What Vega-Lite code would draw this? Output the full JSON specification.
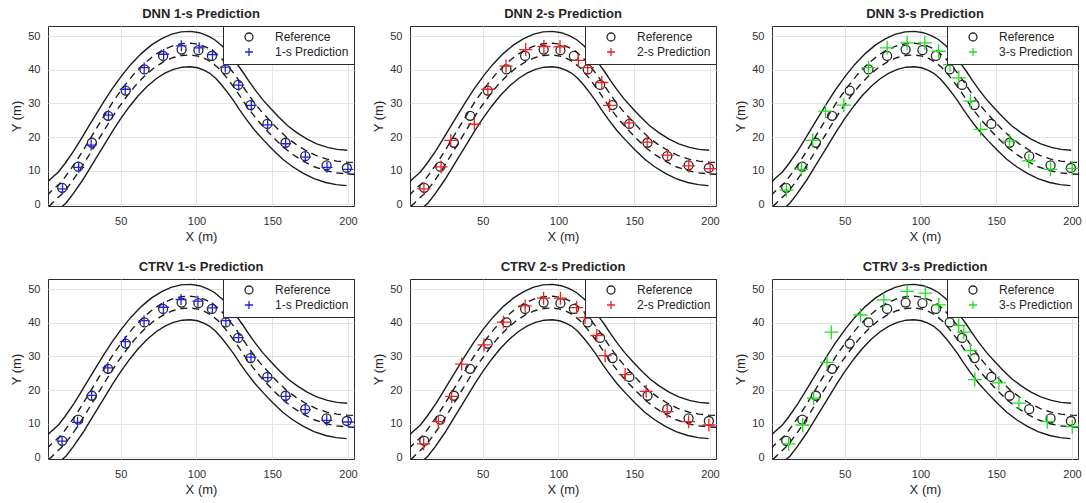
{
 "$schema": "https://vega.github.io/schema/vega-lite/v6.json",
 "background": "white",
 "padding": {"left": 10, "top": 7, "right": 0, "bottom": 0},
 "datasets": {
  "road": [
   {"line":"U2","kind":"solid","x":-0.03,"y":5.84},{"line":"U2","kind":"solid","x":3.85,"y":7.59},{"line":"U2","kind":"solid","x":8.87,"y":9.6},{"line":"U2","kind":"solid","x":13.2,"y":12.14},{"line":"U2","kind":"solid","x":18.99,"y":15.9},{"line":"U2","kind":"solid","x":22.88,"y":18.72},{"line":"U2","kind":"solid","x":27.85,"y":22.4},{"line":"U2","kind":"solid","x":32.88,"y":26.12},{"line":"U2","kind":"solid","x":38.66,"y":30.38},{"line":"U2","kind":"solid","x":44.11,"y":34.18},{"line":"U2","kind":"solid","x":50.66,"y":38.24},{"line":"U2","kind":"solid","x":56.65,"y":41.59},{"line":"U2","kind":"solid","x":63.71,"y":44.86},{"line":"U2","kind":"solid","x":70.4,"y":47.4},{"line":"U2","kind":"solid","x":76.78,"y":49.2},{"line":"U2","kind":"solid","x":83.22,"y":50.49},{"line":"U2","kind":"solid","x":89.83,"y":51.24},{"line":"U2","kind":"solid","x":96.11,"y":51.4},{"line":"U2","kind":"solid","x":101.93,"y":51.01},{"line":"U2","kind":"solid","x":107.13,"y":50.13},{"line":"U2","kind":"solid","x":111.84,"y":48.99},{"line":"U2","kind":"solid","x":117.15,"y":46.99},{"line":"U2","kind":"solid","x":121.83,"y":44.6},{"line":"U2","kind":"solid","x":126.27,"y":42.06},{"line":"U2","kind":"solid","x":130.39,"y":39.48},{"line":"U2","kind":"solid","x":134.39,"y":36.78},{"line":"U2","kind":"solid","x":138.47,"y":34.16},{"line":"U2","kind":"solid","x":143.57,"y":31.18},{"line":"U2","kind":"solid","x":149.15,"y":28.39},{"line":"U2","kind":"solid","x":154.62,"y":25.8},{"line":"U2","kind":"solid","x":160.62,"y":23.22},{"line":"U2","kind":"solid","x":166.51,"y":21.23},{"line":"U2","kind":"solid","x":173.02,"y":19.4},{"line":"U2","kind":"solid","x":179.43,"y":17.97},{"line":"U2","kind":"solid","x":186.47,"y":16.92},{"line":"U2","kind":"solid","x":192.82,"y":16.34},{"line":"U2","kind":"solid","x":199.51,"y":16.05},
   {"line":"L2","kind":"solid","x":4.03,"y":-3.84},{"line":"L2","kind":"solid","x":8.15,"y":-1.99},{"line":"L2","kind":"solid","x":13.93,"y":0.4},{"line":"L2","kind":"solid","x":18.8,"y":3.26},{"line":"L2","kind":"solid","x":25.01,"y":7.3},{"line":"L2","kind":"solid","x":29.12,"y":10.28},{"line":"L2","kind":"solid","x":34.15,"y":14.0},{"line":"L2","kind":"solid","x":39.12,"y":17.68},{"line":"L2","kind":"solid","x":44.74,"y":21.82},{"line":"L2","kind":"solid","x":49.89,"y":25.42},{"line":"L2","kind":"solid","x":55.94,"y":29.16},{"line":"L2","kind":"solid","x":61.35,"y":32.21},{"line":"L2","kind":"solid","x":67.69,"y":35.14},{"line":"L2","kind":"solid","x":73.6,"y":37.4},{"line":"L2","kind":"solid","x":79.22,"y":39.0},{"line":"L2","kind":"solid","x":84.78,"y":40.11},{"line":"L2","kind":"solid","x":90.57,"y":40.76},{"line":"L2","kind":"solid","x":95.9,"y":40.9},{"line":"L2","kind":"solid","x":100.68,"y":40.59},{"line":"L2","kind":"solid","x":104.87,"y":39.87},{"line":"L2","kind":"solid","x":108.56,"y":39.01},{"line":"L2","kind":"solid","x":112.85,"y":37.41},{"line":"L2","kind":"solid","x":116.77,"y":35.4},{"line":"L2","kind":"solid","x":120.73,"y":33.14},{"line":"L2","kind":"solid","x":124.61,"y":30.72},{"line":"L2","kind":"solid","x":128.61,"y":28.02},{"line":"L2","kind":"solid","x":132.93,"y":25.24},{"line":"L2","kind":"solid","x":138.43,"y":22.02},{"line":"L2","kind":"solid","x":144.45,"y":19.01},{"line":"L2","kind":"solid","x":150.38,"y":16.2},{"line":"L2","kind":"solid","x":156.98,"y":13.38},{"line":"L2","kind":"solid","x":163.49,"y":11.17},{"line":"L2","kind":"solid","x":170.58,"y":9.2},{"line":"L2","kind":"solid","x":177.57,"y":7.63},{"line":"L2","kind":"solid","x":185.33,"y":6.48},{"line":"L2","kind":"solid","x":192.19,"y":5.86},{"line":"L2","kind":"solid","x":199.09,"y":5.56},
   {"line":"U1","kind":"dash","x":1.32,"y":2.61},{"line":"U1","kind":"dash","x":5.28,"y":4.4},{"line":"U1","kind":"dash","x":10.56,"y":6.53},{"line":"U1","kind":"dash","x":15.07,"y":9.18},{"line":"U1","kind":"dash","x":21.0,"y":13.03},{"line":"U1","kind":"dash","x":24.96,"y":15.91},{"line":"U1","kind":"dash","x":29.95,"y":19.6},{"line":"U1","kind":"dash","x":34.96,"y":23.31},{"line":"U1","kind":"dash","x":40.69,"y":27.53},{"line":"U1","kind":"dash","x":46.04,"y":31.26},{"line":"U1","kind":"dash","x":52.42,"y":35.21},{"line":"U1","kind":"dash","x":58.22,"y":38.47},{"line":"U1","kind":"dash","x":65.04,"y":41.62},{"line":"U1","kind":"dash","x":71.47,"y":44.07},{"line":"U1","kind":"dash","x":77.59,"y":45.8},{"line":"U1","kind":"dash","x":83.74,"y":47.03},{"line":"U1","kind":"dash","x":90.08,"y":47.75},{"line":"U1","kind":"dash","x":96.04,"y":47.9},{"line":"U1","kind":"dash","x":101.51,"y":47.54},{"line":"U1","kind":"dash","x":106.38,"y":46.71},{"line":"U1","kind":"dash","x":110.75,"y":45.66},{"line":"U1","kind":"dash","x":115.72,"y":43.8},{"line":"U1","kind":"dash","x":120.14,"y":41.53},{"line":"U1","kind":"dash","x":124.42,"y":39.09},{"line":"U1","kind":"dash","x":128.46,"y":36.56},{"line":"U1","kind":"dash","x":132.46,"y":33.86},{"line":"U1","kind":"dash","x":136.62,"y":31.19},{"line":"U1","kind":"dash","x":141.86,"y":28.13},{"line":"U1","kind":"dash","x":147.58,"y":25.27},{"line":"U1","kind":"dash","x":153.21,"y":22.6},{"line":"U1","kind":"dash","x":159.41,"y":19.94},{"line":"U1","kind":"dash","x":165.5,"y":17.88},{"line":"U1","kind":"dash","x":172.21,"y":16.0},{"line":"U1","kind":"dash","x":178.81,"y":14.52},{"line":"U1","kind":"dash","x":186.09,"y":13.44},{"line":"U1","kind":"dash","x":192.61,"y":12.85},{"line":"U1","kind":"dash","x":199.37,"y":12.55},{"line":"U1","kind":"dash","x":204.05,"y":12.45},{"line":"U1","kind":"dash","x":208.04,"y":12.35},
   {"line":"L1","kind":"dash","x":2.68,"y":-0.61},{"line":"L1","kind":"dash","x":6.72,"y":1.2},{"line":"L1","kind":"dash","x":12.24,"y":3.47},{"line":"L1","kind":"dash","x":16.93,"y":6.22},{"line":"L1","kind":"dash","x":23.0,"y":10.17},{"line":"L1","kind":"dash","x":27.04,"y":13.09},{"line":"L1","kind":"dash","x":32.05,"y":16.8},{"line":"L1","kind":"dash","x":37.04,"y":20.49},{"line":"L1","kind":"dash","x":42.71,"y":24.67},{"line":"L1","kind":"dash","x":47.96,"y":28.34},{"line":"L1","kind":"dash","x":54.18,"y":32.19},{"line":"L1","kind":"dash","x":59.78,"y":35.34},{"line":"L1","kind":"dash","x":66.36,"y":38.38},{"line":"L1","kind":"dash","x":72.53,"y":40.73},{"line":"L1","kind":"dash","x":78.41,"y":42.4},{"line":"L1","kind":"dash","x":84.26,"y":43.57},{"line":"L1","kind":"dash","x":90.32,"y":44.25},{"line":"L1","kind":"dash","x":95.97,"y":44.4},{"line":"L1","kind":"dash","x":101.09,"y":44.06},{"line":"L1","kind":"dash","x":105.62,"y":43.29},{"line":"L1","kind":"dash","x":109.65,"y":42.34},{"line":"L1","kind":"dash","x":114.28,"y":40.6},{"line":"L1","kind":"dash","x":118.46,"y":38.47},{"line":"L1","kind":"dash","x":122.58,"y":36.11},{"line":"L1","kind":"dash","x":126.54,"y":33.64},{"line":"L1","kind":"dash","x":130.54,"y":30.94},{"line":"L1","kind":"dash","x":134.78,"y":28.21},{"line":"L1","kind":"dash","x":140.14,"y":25.07},{"line":"L1","kind":"dash","x":146.02,"y":22.14},{"line":"L1","kind":"dash","x":151.8,"y":19.4},{"line":"L1","kind":"dash","x":158.19,"y":16.66},{"line":"L1","kind":"dash","x":164.5,"y":14.52},{"line":"L1","kind":"dash","x":171.39,"y":12.6},{"line":"L1","kind":"dash","x":178.19,"y":11.08},{"line":"L1","kind":"dash","x":185.71,"y":9.96},{"line":"L1","kind":"dash","x":192.4,"y":9.35},{"line":"L1","kind":"dash","x":199.23,"y":9.05},{"line":"L1","kind":"dash","x":203.95,"y":8.95},{"line":"L1","kind":"dash","x":207.97,"y":8.85}
  ],
  "ref": [
   {"series":"Reference","x":11.4,"y":4.9},{"series":"Reference","x":22.0,"y":11.2},{"series":"Reference","x":31.0,"y":18.3},{"series":"Reference","x":41.7,"y":26.3},{"series":"Reference","x":53.3,"y":33.8},{"series":"Reference","x":65.7,"y":40.1},{"series":"Reference","x":78.0,"y":44.1},{"series":"Reference","x":90.2,"y":46.0},{"series":"Reference","x":101.3,"y":45.8},{"series":"Reference","x":110.2,"y":44.1},{"series":"Reference","x":119.3,"y":40.1},{"series":"Reference","x":127.5,"y":35.5},{"series":"Reference","x":135.7,"y":29.5},{"series":"Reference","x":146.8,"y":23.9},{"series":"Reference","x":158.8,"y":18.3},{"series":"Reference","x":171.8,"y":14.3},{"series":"Reference","x":185.9,"y":11.6},{"series":"Reference","x":199.3,"y":10.8}
  ],
  "pred": [
   {"panel":"DNN1","series":"1-s Prediction","x":11.6,"y":4.6},{"panel":"DNN1","series":"1-s Prediction","x":22.3,"y":11.0},{"panel":"DNN1","series":"1-s Prediction","x":30.5,"y":17.6},{"panel":"DNN1","series":"1-s Prediction","x":41.9,"y":26.5},{"panel":"DNN1","series":"1-s Prediction","x":53.0,"y":34.2},{"panel":"DNN1","series":"1-s Prediction","x":65.5,"y":40.6},{"panel":"DNN1","series":"1-s Prediction","x":78.3,"y":44.6},{"panel":"DNN1","series":"1-s Prediction","x":90.0,"y":47.1},{"panel":"DNN1","series":"1-s Prediction","x":101.8,"y":46.5},{"panel":"DNN1","series":"1-s Prediction","x":110.6,"y":44.5},{"panel":"DNN1","series":"1-s Prediction","x":119.0,"y":40.8},{"panel":"DNN1","series":"1-s Prediction","x":127.9,"y":35.4},{"panel":"DNN1","series":"1-s Prediction","x":136.2,"y":29.4},{"panel":"DNN1","series":"1-s Prediction","x":147.0,"y":23.6},{"panel":"DNN1","series":"1-s Prediction","x":158.9,"y":18.0},{"panel":"DNN1","series":"1-s Prediction","x":171.9,"y":14.0},{"panel":"DNN1","series":"1-s Prediction","x":186.2,"y":11.0},{"panel":"DNN1","series":"1-s Prediction","x":200.0,"y":10.4},
   {"panel":"DNN2","series":"2-s Prediction","x":11.2,"y":4.6},{"panel":"DNN2","series":"2-s Prediction","x":22.5,"y":11.1},{"panel":"DNN2","series":"2-s Prediction","x":28.9,"y":19.0},{"panel":"DNN2","series":"2-s Prediction","x":44.5,"y":23.8},{"panel":"DNN2","series":"2-s Prediction","x":53.4,"y":34.2},{"panel":"DNN2","series":"2-s Prediction","x":65.4,"y":41.1},{"panel":"DNN2","series":"2-s Prediction","x":78.4,"y":46.0},{"panel":"DNN2","series":"2-s Prediction","x":90.4,"y":46.9},{"panel":"DNN2","series":"2-s Prediction","x":101.0,"y":46.8},{"panel":"DNN2","series":"2-s Prediction","x":113.2,"y":42.8},{"panel":"DNN2","series":"2-s Prediction","x":119.3,"y":40.6},{"panel":"DNN2","series":"2-s Prediction","x":128.6,"y":36.2},{"panel":"DNN2","series":"2-s Prediction","x":133.7,"y":29.4},{"panel":"DNN2","series":"2-s Prediction","x":146.6,"y":24.2},{"panel":"DNN2","series":"2-s Prediction","x":158.6,"y":18.5},{"panel":"DNN2","series":"2-s Prediction","x":172.0,"y":14.6},{"panel":"DNN2","series":"2-s Prediction","x":186.0,"y":11.4},{"panel":"DNN2","series":"2-s Prediction","x":200.1,"y":10.6},
   {"panel":"DNN3","series":"3-s Prediction","x":11.5,"y":4.2},{"panel":"DNN3","series":"3-s Prediction","x":21.4,"y":10.4},{"panel":"DNN3","series":"3-s Prediction","x":28.9,"y":19.0},{"panel":"DNN3","series":"3-s Prediction","x":37.3,"y":27.7},{"panel":"DNN3","series":"3-s Prediction","x":49.4,"y":29.5},{"panel":"DNN3","series":"3-s Prediction","x":65.7,"y":40.6},{"panel":"DNN3","series":"3-s Prediction","x":78.0,"y":46.5},{"panel":"DNN3","series":"3-s Prediction","x":91.2,"y":48.0},{"panel":"DNN3","series":"3-s Prediction","x":102.9,"y":48.0},{"panel":"DNN3","series":"3-s Prediction","x":112.0,"y":45.5},{"panel":"DNN3","series":"3-s Prediction","x":119.5,"y":41.5},{"panel":"DNN3","series":"3-s Prediction","x":125.3,"y":37.6},{"panel":"DNN3","series":"3-s Prediction","x":133.0,"y":30.7},{"panel":"DNN3","series":"3-s Prediction","x":139.7,"y":22.3},{"panel":"DNN3","series":"3-s Prediction","x":158.8,"y":18.8},{"panel":"DNN3","series":"3-s Prediction","x":171.5,"y":12.9},{"panel":"DNN3","series":"3-s Prediction","x":185.9,"y":10.4},{"panel":"DNN3","series":"3-s Prediction","x":200.2,"y":10.7},
   {"panel":"CTRV1","series":"1-s Prediction","x":11.3,"y":4.8},{"panel":"CTRV1","series":"1-s Prediction","x":21.5,"y":10.4},{"panel":"CTRV1","series":"1-s Prediction","x":30.8,"y":18.4},{"panel":"CTRV1","series":"1-s Prediction","x":41.5,"y":26.6},{"panel":"CTRV1","series":"1-s Prediction","x":53.0,"y":34.4},{"panel":"CTRV1","series":"1-s Prediction","x":65.4,"y":40.6},{"panel":"CTRV1","series":"1-s Prediction","x":78.2,"y":44.6},{"panel":"CTRV1","series":"1-s Prediction","x":89.8,"y":46.9},{"panel":"CTRV1","series":"1-s Prediction","x":101.0,"y":46.4},{"panel":"CTRV1","series":"1-s Prediction","x":110.5,"y":44.4},{"panel":"CTRV1","series":"1-s Prediction","x":119.4,"y":40.6},{"panel":"CTRV1","series":"1-s Prediction","x":127.8,"y":35.6},{"panel":"CTRV1","series":"1-s Prediction","x":136.0,"y":29.8},{"panel":"CTRV1","series":"1-s Prediction","x":147.1,"y":23.7},{"panel":"CTRV1","series":"1-s Prediction","x":159.1,"y":18.1},{"panel":"CTRV1","series":"1-s Prediction","x":171.8,"y":14.2},{"panel":"CTRV1","series":"1-s Prediction","x":186.0,"y":11.0},{"panel":"CTRV1","series":"1-s Prediction","x":200.2,"y":10.5},
   {"panel":"CTRV2","series":"2-s Prediction","x":11.0,"y":4.0},{"panel":"CTRV2","series":"2-s Prediction","x":20.7,"y":10.6},{"panel":"CTRV2","series":"2-s Prediction","x":29.5,"y":18.1},{"panel":"CTRV2","series":"2-s Prediction","x":36.1,"y":27.7},{"panel":"CTRV2","series":"2-s Prediction","x":50.9,"y":33.4},{"panel":"CTRV2","series":"2-s Prediction","x":63.7,"y":40.2},{"panel":"CTRV2","series":"2-s Prediction","x":78.0,"y":45.0},{"panel":"CTRV2","series":"2-s Prediction","x":90.2,"y":47.3},{"panel":"CTRV2","series":"2-s Prediction","x":101.3,"y":47.3},{"panel":"CTRV2","series":"2-s Prediction","x":112.0,"y":44.5},{"panel":"CTRV2","series":"2-s Prediction","x":117.5,"y":41.5},{"panel":"CTRV2","series":"2-s Prediction","x":125.3,"y":36.2},{"panel":"CTRV2","series":"2-s Prediction","x":130.8,"y":30.2},{"panel":"CTRV2","series":"2-s Prediction","x":144.0,"y":24.6},{"panel":"CTRV2","series":"2-s Prediction","x":157.9,"y":19.6},{"panel":"CTRV2","series":"2-s Prediction","x":171.8,"y":13.6},{"panel":"CTRV2","series":"2-s Prediction","x":185.9,"y":10.6},{"panel":"CTRV2","series":"2-s Prediction","x":199.3,"y":9.6},
   {"panel":"CTRV3","series":"3-s Prediction","x":13.0,"y":4.0},{"panel":"CTRV3","series":"3-s Prediction","x":22.3,"y":9.6},{"panel":"CTRV3","series":"3-s Prediction","x":29.5,"y":17.6},{"panel":"CTRV3","series":"3-s Prediction","x":38.3,"y":28.2},{"panel":"CTRV3","series":"3-s Prediction","x":41.2,"y":37.2},{"panel":"CTRV3","series":"3-s Prediction","x":60.4,"y":42.3},{"panel":"CTRV3","series":"3-s Prediction","x":75.8,"y":46.8},{"panel":"CTRV3","series":"3-s Prediction","x":91.2,"y":49.3},{"panel":"CTRV3","series":"3-s Prediction","x":103.3,"y":48.8},{"panel":"CTRV3","series":"3-s Prediction","x":112.1,"y":45.3},{"panel":"CTRV3","series":"3-s Prediction","x":125.3,"y":39.2},{"panel":"CTRV3","series":"3-s Prediction","x":128.6,"y":37.2},{"panel":"CTRV3","series":"3-s Prediction","x":133.0,"y":31.7},{"panel":"CTRV3","series":"3-s Prediction","x":135.9,"y":23.1},{"panel":"CTRV3","series":"3-s Prediction","x":151.8,"y":22.1},{"panel":"CTRV3","series":"3-s Prediction","x":165.0,"y":16.1},{"panel":"CTRV3","series":"3-s Prediction","x":183.7,"y":10.6},{"panel":"CTRV3","series":"3-s Prediction","x":200.2,"y":9.1}
  ]
 },
 "columns": 3,
 "spacing": {"row": 73, "column": 56},
 "bounds": "flush",
 "resolve": {"scale": {"color": "independent", "shape": "independent"}, "legend": {"color": "independent", "shape": "independent"}},
 "concat": [
  {"title": "DNN 1-s Prediction", "width": 306, "height": 180,
   "encoding": {"x": {"field": "x", "type": "quantitative", "title": "X (m)", "scale": {"domain": [2, 204], "nice": false, "zero": false}, "axis": {"values": [50, 100, 150, 200]}}, "y": {"field": "y", "type": "quantitative", "title": "Y (m)", "scale": {"domain": [-0.5, 53], "nice": false, "zero": false}, "axis": {"values": [0, 10, 20, 30, 40, 50]}}},
   "layer": [
    {"data": {"name": "road"}, "transform": [{"filter": "datum.kind == 'solid'"}], "mark": {"type": "line", "clip": true, "color": "#1c1c1c", "strokeWidth": 1.4}, "encoding": {"detail": {"field": "line"}}},
    {"data": {"name": "road"}, "transform": [{"filter": "datum.kind == 'dash'"}], "mark": {"type": "line", "clip": true, "color": "#1c1c1c", "strokeWidth": 1.4, "strokeDash": [7, 5]}, "encoding": {"detail": {"field": "line"}}},
    {"data": {"name": "ref"}, "mark": {"type": "point", "filled": false, "size": 81, "strokeWidth": 1.3, "opacity": 1}, "encoding": {"color": {"field": "series", "type": "nominal", "scale": {"domain": ["Reference", "1-s Prediction"], "range": ["#262626", "#2020ee"]}, "legend": {"title": null}}, "shape": {"field": "series", "type": "nominal", "scale": {"domain": ["Reference", "1-s Prediction"], "range": ["circle", "M-1,0L1,0M0,-1L0,1"]}, "legend": {"title": null}}}},
    {"data": {"name": "pred"}, "transform": [{"filter": "datum.panel == 'DNN1'"}], "mark": {"type": "point", "filled": false, "size": 121, "strokeWidth": 1.3, "opacity": 1}, "encoding": {"color": {"field": "series", "type": "nominal", "scale": {"domain": ["Reference", "1-s Prediction"], "range": ["#262626", "#2020ee"]}, "legend": {"title": null}}, "shape": {"field": "series", "type": "nominal", "scale": {"domain": ["Reference", "1-s Prediction"], "range": ["circle", "M-1,0L1,0M0,-1L0,1"]}, "legend": {"title": null}}}}
   ]},
  {"title": "DNN 2-s Prediction", "width": 306, "height": 180,
   "encoding": {"x": {"field": "x", "type": "quantitative", "title": "X (m)", "scale": {"domain": [2, 204], "nice": false, "zero": false}, "axis": {"values": [50, 100, 150, 200]}}, "y": {"field": "y", "type": "quantitative", "title": "Y (m)", "scale": {"domain": [-0.5, 53], "nice": false, "zero": false}, "axis": {"values": [0, 10, 20, 30, 40, 50]}}},
   "layer": [
    {"data": {"name": "road"}, "transform": [{"filter": "datum.kind == 'solid'"}], "mark": {"type": "line", "clip": true, "color": "#1c1c1c", "strokeWidth": 1.4}, "encoding": {"detail": {"field": "line"}}},
    {"data": {"name": "road"}, "transform": [{"filter": "datum.kind == 'dash'"}], "mark": {"type": "line", "clip": true, "color": "#1c1c1c", "strokeWidth": 1.4, "strokeDash": [7, 5]}, "encoding": {"detail": {"field": "line"}}},
    {"data": {"name": "ref"}, "mark": {"type": "point", "filled": false, "size": 81, "strokeWidth": 1.3, "opacity": 1}, "encoding": {"color": {"field": "series", "type": "nominal", "scale": {"domain": ["Reference", "2-s Prediction"], "range": ["#262626", "#ee2020"]}, "legend": {"title": null}}, "shape": {"field": "series", "type": "nominal", "scale": {"domain": ["Reference", "2-s Prediction"], "range": ["circle", "M-1,0L1,0M0,-1L0,1"]}, "legend": {"title": null}}}},
    {"data": {"name": "pred"}, "transform": [{"filter": "datum.panel == 'DNN2'"}], "mark": {"type": "point", "filled": false, "size": 169, "strokeWidth": 1.3, "opacity": 1}, "encoding": {"color": {"field": "series", "type": "nominal", "scale": {"domain": ["Reference", "2-s Prediction"], "range": ["#262626", "#ee2020"]}, "legend": {"title": null}}, "shape": {"field": "series", "type": "nominal", "scale": {"domain": ["Reference", "2-s Prediction"], "range": ["circle", "M-1,0L1,0M0,-1L0,1"]}, "legend": {"title": null}}}}
   ]},
  {"title": "DNN 3-s Prediction", "width": 306, "height": 180,
   "encoding": {"x": {"field": "x", "type": "quantitative", "title": "X (m)", "scale": {"domain": [2, 204], "nice": false, "zero": false}, "axis": {"values": [50, 100, 150, 200]}}, "y": {"field": "y", "type": "quantitative", "title": "Y (m)", "scale": {"domain": [-0.5, 53], "nice": false, "zero": false}, "axis": {"values": [0, 10, 20, 30, 40, 50]}}},
   "layer": [
    {"data": {"name": "road"}, "transform": [{"filter": "datum.kind == 'solid'"}], "mark": {"type": "line", "clip": true, "color": "#1c1c1c", "strokeWidth": 1.4}, "encoding": {"detail": {"field": "line"}}},
    {"data": {"name": "road"}, "transform": [{"filter": "datum.kind == 'dash'"}], "mark": {"type": "line", "clip": true, "color": "#1c1c1c", "strokeWidth": 1.4, "strokeDash": [7, 5]}, "encoding": {"detail": {"field": "line"}}},
    {"data": {"name": "ref"}, "mark": {"type": "point", "filled": false, "size": 81, "strokeWidth": 1.3, "opacity": 1}, "encoding": {"color": {"field": "series", "type": "nominal", "scale": {"domain": ["Reference", "3-s Prediction"], "range": ["#262626", "#22dd22"]}, "legend": {"title": null}}, "shape": {"field": "series", "type": "nominal", "scale": {"domain": ["Reference", "3-s Prediction"], "range": ["circle", "M-1,0L1,0M0,-1L0,1"]}, "legend": {"title": null}}}},
    {"data": {"name": "pred"}, "transform": [{"filter": "datum.panel == 'DNN3'"}], "mark": {"type": "point", "filled": false, "size": 196, "strokeWidth": 1.3, "opacity": 1}, "encoding": {"color": {"field": "series", "type": "nominal", "scale": {"domain": ["Reference", "3-s Prediction"], "range": ["#262626", "#22dd22"]}, "legend": {"title": null}}, "shape": {"field": "series", "type": "nominal", "scale": {"domain": ["Reference", "3-s Prediction"], "range": ["circle", "M-1,0L1,0M0,-1L0,1"]}, "legend": {"title": null}}}}
   ]},
  {"title": "CTRV 1-s Prediction", "width": 306, "height": 180,
   "encoding": {"x": {"field": "x", "type": "quantitative", "title": "X (m)", "scale": {"domain": [2, 204], "nice": false, "zero": false}, "axis": {"values": [50, 100, 150, 200]}}, "y": {"field": "y", "type": "quantitative", "title": "Y (m)", "scale": {"domain": [-0.5, 53], "nice": false, "zero": false}, "axis": {"values": [0, 10, 20, 30, 40, 50]}}},
   "layer": [
    {"data": {"name": "road"}, "transform": [{"filter": "datum.kind == 'solid'"}], "mark": {"type": "line", "clip": true, "color": "#1c1c1c", "strokeWidth": 1.4}, "encoding": {"detail": {"field": "line"}}},
    {"data": {"name": "road"}, "transform": [{"filter": "datum.kind == 'dash'"}], "mark": {"type": "line", "clip": true, "color": "#1c1c1c", "strokeWidth": 1.4, "strokeDash": [7, 5]}, "encoding": {"detail": {"field": "line"}}},
    {"data": {"name": "ref"}, "mark": {"type": "point", "filled": false, "size": 81, "strokeWidth": 1.3, "opacity": 1}, "encoding": {"color": {"field": "series", "type": "nominal", "scale": {"domain": ["Reference", "1-s Prediction"], "range": ["#262626", "#2020ee"]}, "legend": {"title": null}}, "shape": {"field": "series", "type": "nominal", "scale": {"domain": ["Reference", "1-s Prediction"], "range": ["circle", "M-1,0L1,0M0,-1L0,1"]}, "legend": {"title": null}}}},
    {"data": {"name": "pred"}, "transform": [{"filter": "datum.panel == 'CTRV1'"}], "mark": {"type": "point", "filled": false, "size": 121, "strokeWidth": 1.3, "opacity": 1}, "encoding": {"color": {"field": "series", "type": "nominal", "scale": {"domain": ["Reference", "1-s Prediction"], "range": ["#262626", "#2020ee"]}, "legend": {"title": null}}, "shape": {"field": "series", "type": "nominal", "scale": {"domain": ["Reference", "1-s Prediction"], "range": ["circle", "M-1,0L1,0M0,-1L0,1"]}, "legend": {"title": null}}}}
   ]},
  {"title": "CTRV 2-s Prediction", "width": 306, "height": 180,
   "encoding": {"x": {"field": "x", "type": "quantitative", "title": "X (m)", "scale": {"domain": [2, 204], "nice": false, "zero": false}, "axis": {"values": [50, 100, 150, 200]}}, "y": {"field": "y", "type": "quantitative", "title": "Y (m)", "scale": {"domain": [-0.5, 53], "nice": false, "zero": false}, "axis": {"values": [0, 10, 20, 30, 40, 50]}}},
   "layer": [
    {"data": {"name": "road"}, "transform": [{"filter": "datum.kind == 'solid'"}], "mark": {"type": "line", "clip": true, "color": "#1c1c1c", "strokeWidth": 1.4}, "encoding": {"detail": {"field": "line"}}},
    {"data": {"name": "road"}, "transform": [{"filter": "datum.kind == 'dash'"}], "mark": {"type": "line", "clip": true, "color": "#1c1c1c", "strokeWidth": 1.4, "strokeDash": [7, 5]}, "encoding": {"detail": {"field": "line"}}},
    {"data": {"name": "ref"}, "mark": {"type": "point", "filled": false, "size": 81, "strokeWidth": 1.3, "opacity": 1}, "encoding": {"color": {"field": "series", "type": "nominal", "scale": {"domain": ["Reference", "2-s Prediction"], "range": ["#262626", "#ee2020"]}, "legend": {"title": null}}, "shape": {"field": "series", "type": "nominal", "scale": {"domain": ["Reference", "2-s Prediction"], "range": ["circle", "M-1,0L1,0M0,-1L0,1"]}, "legend": {"title": null}}}},
    {"data": {"name": "pred"}, "transform": [{"filter": "datum.panel == 'CTRV2'"}], "mark": {"type": "point", "filled": false, "size": 169, "strokeWidth": 1.3, "opacity": 1}, "encoding": {"color": {"field": "series", "type": "nominal", "scale": {"domain": ["Reference", "2-s Prediction"], "range": ["#262626", "#ee2020"]}, "legend": {"title": null}}, "shape": {"field": "series", "type": "nominal", "scale": {"domain": ["Reference", "2-s Prediction"], "range": ["circle", "M-1,0L1,0M0,-1L0,1"]}, "legend": {"title": null}}}}
   ]},
  {"title": "CTRV 3-s Prediction", "width": 306, "height": 180,
   "encoding": {"x": {"field": "x", "type": "quantitative", "title": "X (m)", "scale": {"domain": [2, 204], "nice": false, "zero": false}, "axis": {"values": [50, 100, 150, 200]}}, "y": {"field": "y", "type": "quantitative", "title": "Y (m)", "scale": {"domain": [-0.5, 53], "nice": false, "zero": false}, "axis": {"values": [0, 10, 20, 30, 40, 50]}}},
   "layer": [
    {"data": {"name": "road"}, "transform": [{"filter": "datum.kind == 'solid'"}], "mark": {"type": "line", "clip": true, "color": "#1c1c1c", "strokeWidth": 1.4}, "encoding": {"detail": {"field": "line"}}},
    {"data": {"name": "road"}, "transform": [{"filter": "datum.kind == 'dash'"}], "mark": {"type": "line", "clip": true, "color": "#1c1c1c", "strokeWidth": 1.4, "strokeDash": [7, 5]}, "encoding": {"detail": {"field": "line"}}},
    {"data": {"name": "ref"}, "mark": {"type": "point", "filled": false, "size": 81, "strokeWidth": 1.3, "opacity": 1}, "encoding": {"color": {"field": "series", "type": "nominal", "scale": {"domain": ["Reference", "3-s Prediction"], "range": ["#262626", "#22dd22"]}, "legend": {"title": null}}, "shape": {"field": "series", "type": "nominal", "scale": {"domain": ["Reference", "3-s Prediction"], "range": ["circle", "M-1,0L1,0M0,-1L0,1"]}, "legend": {"title": null}}}},
    {"data": {"name": "pred"}, "transform": [{"filter": "datum.panel == 'CTRV3'"}], "mark": {"type": "point", "filled": false, "size": 196, "strokeWidth": 1.3, "opacity": 1}, "encoding": {"color": {"field": "series", "type": "nominal", "scale": {"domain": ["Reference", "3-s Prediction"], "range": ["#262626", "#22dd22"]}, "legend": {"title": null}}, "shape": {"field": "series", "type": "nominal", "scale": {"domain": ["Reference", "3-s Prediction"], "range": ["circle", "M-1,0L1,0M0,-1L0,1"]}, "legend": {"title": null}}}}
   ]}
 ],
 "config": {
  "font": "Liberation Sans",
  "view": {"stroke": "#2b2b2b", "strokeWidth": 1},
  "axis": {"grid": true, "gridColor": "#e4e4e4", "gridWidth": 1, "domain": false, "ticks": false, "labelFlush": false, "labelFont": "Liberation Sans", "labelFontSize": 11, "labelColor": "#303030", "titleFont": "Liberation Sans", "titleFontSize": 13, "titleFontWeight": "normal", "titleColor": "#262626"},
  "axisX": {"labelPadding": 9, "titlePadding": 4},
  "axisY": {"labelPadding": 8, "titlePadding": 4},
  "title": {"font": "Liberation Sans", "fontSize": 13, "fontWeight": "bold", "color": "#262626", "offset": 5},
  "legend": {"orient": "top-right", "offset": 0, "padding": 5, "strokeColor": "#2b2b2b", "fillColor": "white", "cornerRadius": 0, "symbolOffset": 15, "labelOffset": 20, "rowPadding": 1, "labelFont": "Liberation Sans", "labelFontSize": 12, "labelColor": "#262626", "symbolSize": 64, "symbolStrokeWidth": 1.3}
 }
}
